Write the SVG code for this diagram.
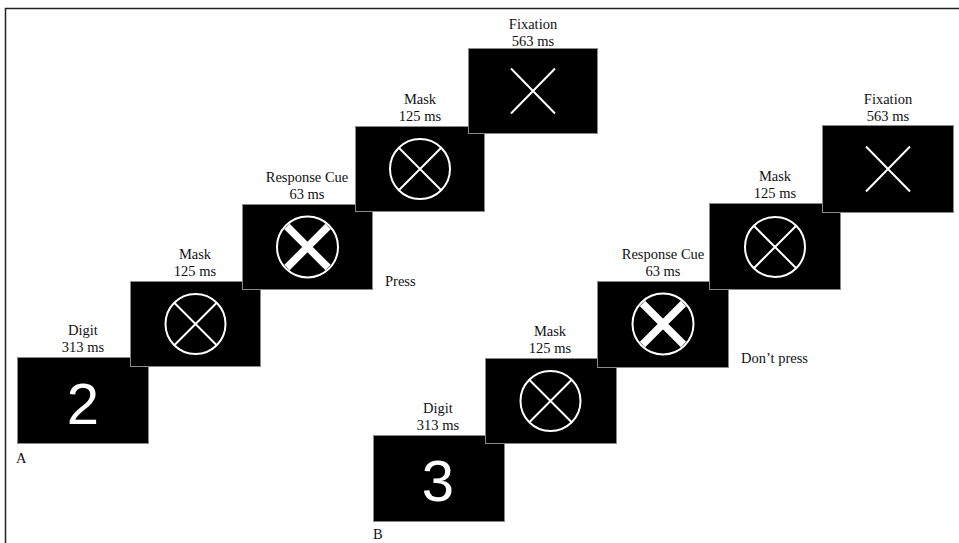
<svg xmlns="http://www.w3.org/2000/svg" xmlns:xlink="http://www.w3.org/1999/xlink" width="959" height="543" viewBox="0 0 959 543">
<style>
.scr{fill:#000;stroke:#8a8a8a;stroke-width:1}
.lbl{font-family:"Liberation Serif","Times New Roman",serif;font-size:14.5px;text-anchor:middle;fill:#111}
.side{font-family:"Liberation Serif","Times New Roman",serif;font-size:14.5px;fill:#111}
.dig{font-family:"Liberation Sans",Arial,sans-serif;font-size:58px;text-anchor:middle;fill:#fff}
.thin{stroke:#fff;stroke-width:2;fill:none}
.thick{stroke:#fff;stroke-width:7.5;fill:none}
</style>
<defs>
<g id="maskSym"><circle r="30" class="thin"/><path d="M-21.2,-21.2L21.2,21.2M21.2,-21.2L-21.2,21.2" class="thin"/></g>
<g id="cueSym"><circle r="30.5" class="thin"/><path d="M-20.5,-20.5L20.5,20.5M20.5,-20.5L-20.5,20.5" class="thick"/></g>
<g id="fixSym"><path d="M-22,-22.5L22,22.5M22,-22.5L-22,22.5" class="thin"/></g>
</defs>
<rect width="959" height="543" fill="#fff"/>
<path d="M5.5,543V8.5H959" fill="none" stroke="#222" stroke-width="1.5"/>

<g id="panelA">
<g id="A-digit"><rect class="scr" x="17.5" y="357.5" width="131" height="86"/><text class="lbl" x="83" y="335">Digit</text><text class="lbl" x="83" y="352">313 ms</text><text class="dig" x="83" y="424">2</text></g>
<g id="A-mask1"><rect class="scr" x="130.5" y="281.5" width="130" height="85"/><text class="lbl" x="195" y="259">Mask</text><text class="lbl" x="195" y="276">125 ms</text><use xlink:href="#maskSym" transform="translate(195.5,324)"/></g>
<g id="A-cue"><rect class="scr" x="242.5" y="204.5" width="130" height="85"/><text class="lbl" x="307" y="182">Response Cue</text><text class="lbl" x="307" y="199">63 ms</text><use xlink:href="#cueSym" transform="translate(307.5,247)"/></g>
<g id="A-mask2"><rect class="scr" x="355.5" y="126.5" width="129" height="85"/><text class="lbl" x="420" y="104">Mask</text><text class="lbl" x="420" y="121">125 ms</text><use xlink:href="#maskSym" transform="translate(420,169)"/></g>
<g id="A-fix"><rect class="scr" x="468.5" y="48.5" width="129" height="85"/><text class="lbl" x="533" y="29">Fixation</text><text class="lbl" x="533" y="46">563 ms</text><use xlink:href="#fixSym" transform="translate(533,91)"/></g>
<text class="side" x="385" y="286">Press</text>
<text class="side" x="16" y="463">A</text>
</g>

<g id="panelB">
<g id="B-digit"><rect class="scr" x="373.5" y="435.5" width="131" height="86"/><text class="lbl" x="438" y="413">Digit</text><text class="lbl" x="438" y="430">313 ms</text><text class="dig" x="438" y="501">3</text></g>
<g id="B-mask1"><rect class="scr" x="485.5" y="358.5" width="131" height="85"/><text class="lbl" x="550" y="336">Mask</text><text class="lbl" x="550" y="353">125 ms</text><use xlink:href="#maskSym" transform="translate(550.5,401)"/></g>
<g id="B-cue"><rect class="scr" x="597.5" y="281.5" width="131" height="86"/><text class="lbl" x="663" y="259">Response Cue</text><text class="lbl" x="663" y="276">63 ms</text><use xlink:href="#cueSym" transform="translate(663,324)"/></g>
<g id="B-mask2"><rect class="scr" x="709.5" y="203.5" width="131" height="86"/><text class="lbl" x="775" y="181">Mask</text><text class="lbl" x="775" y="198">125 ms</text><use xlink:href="#maskSym" transform="translate(775,247)"/></g>
<g id="B-fix"><rect class="scr" x="822.5" y="125.5" width="131" height="87"/><text class="lbl" x="888" y="104">Fixation</text><text class="lbl" x="888" y="121">563 ms</text><use xlink:href="#fixSym" transform="translate(888,169)"/></g>
<text class="side" x="741" y="363">Don’t press</text>
<text class="side" x="373" y="539">B</text>
</g>
</svg>
